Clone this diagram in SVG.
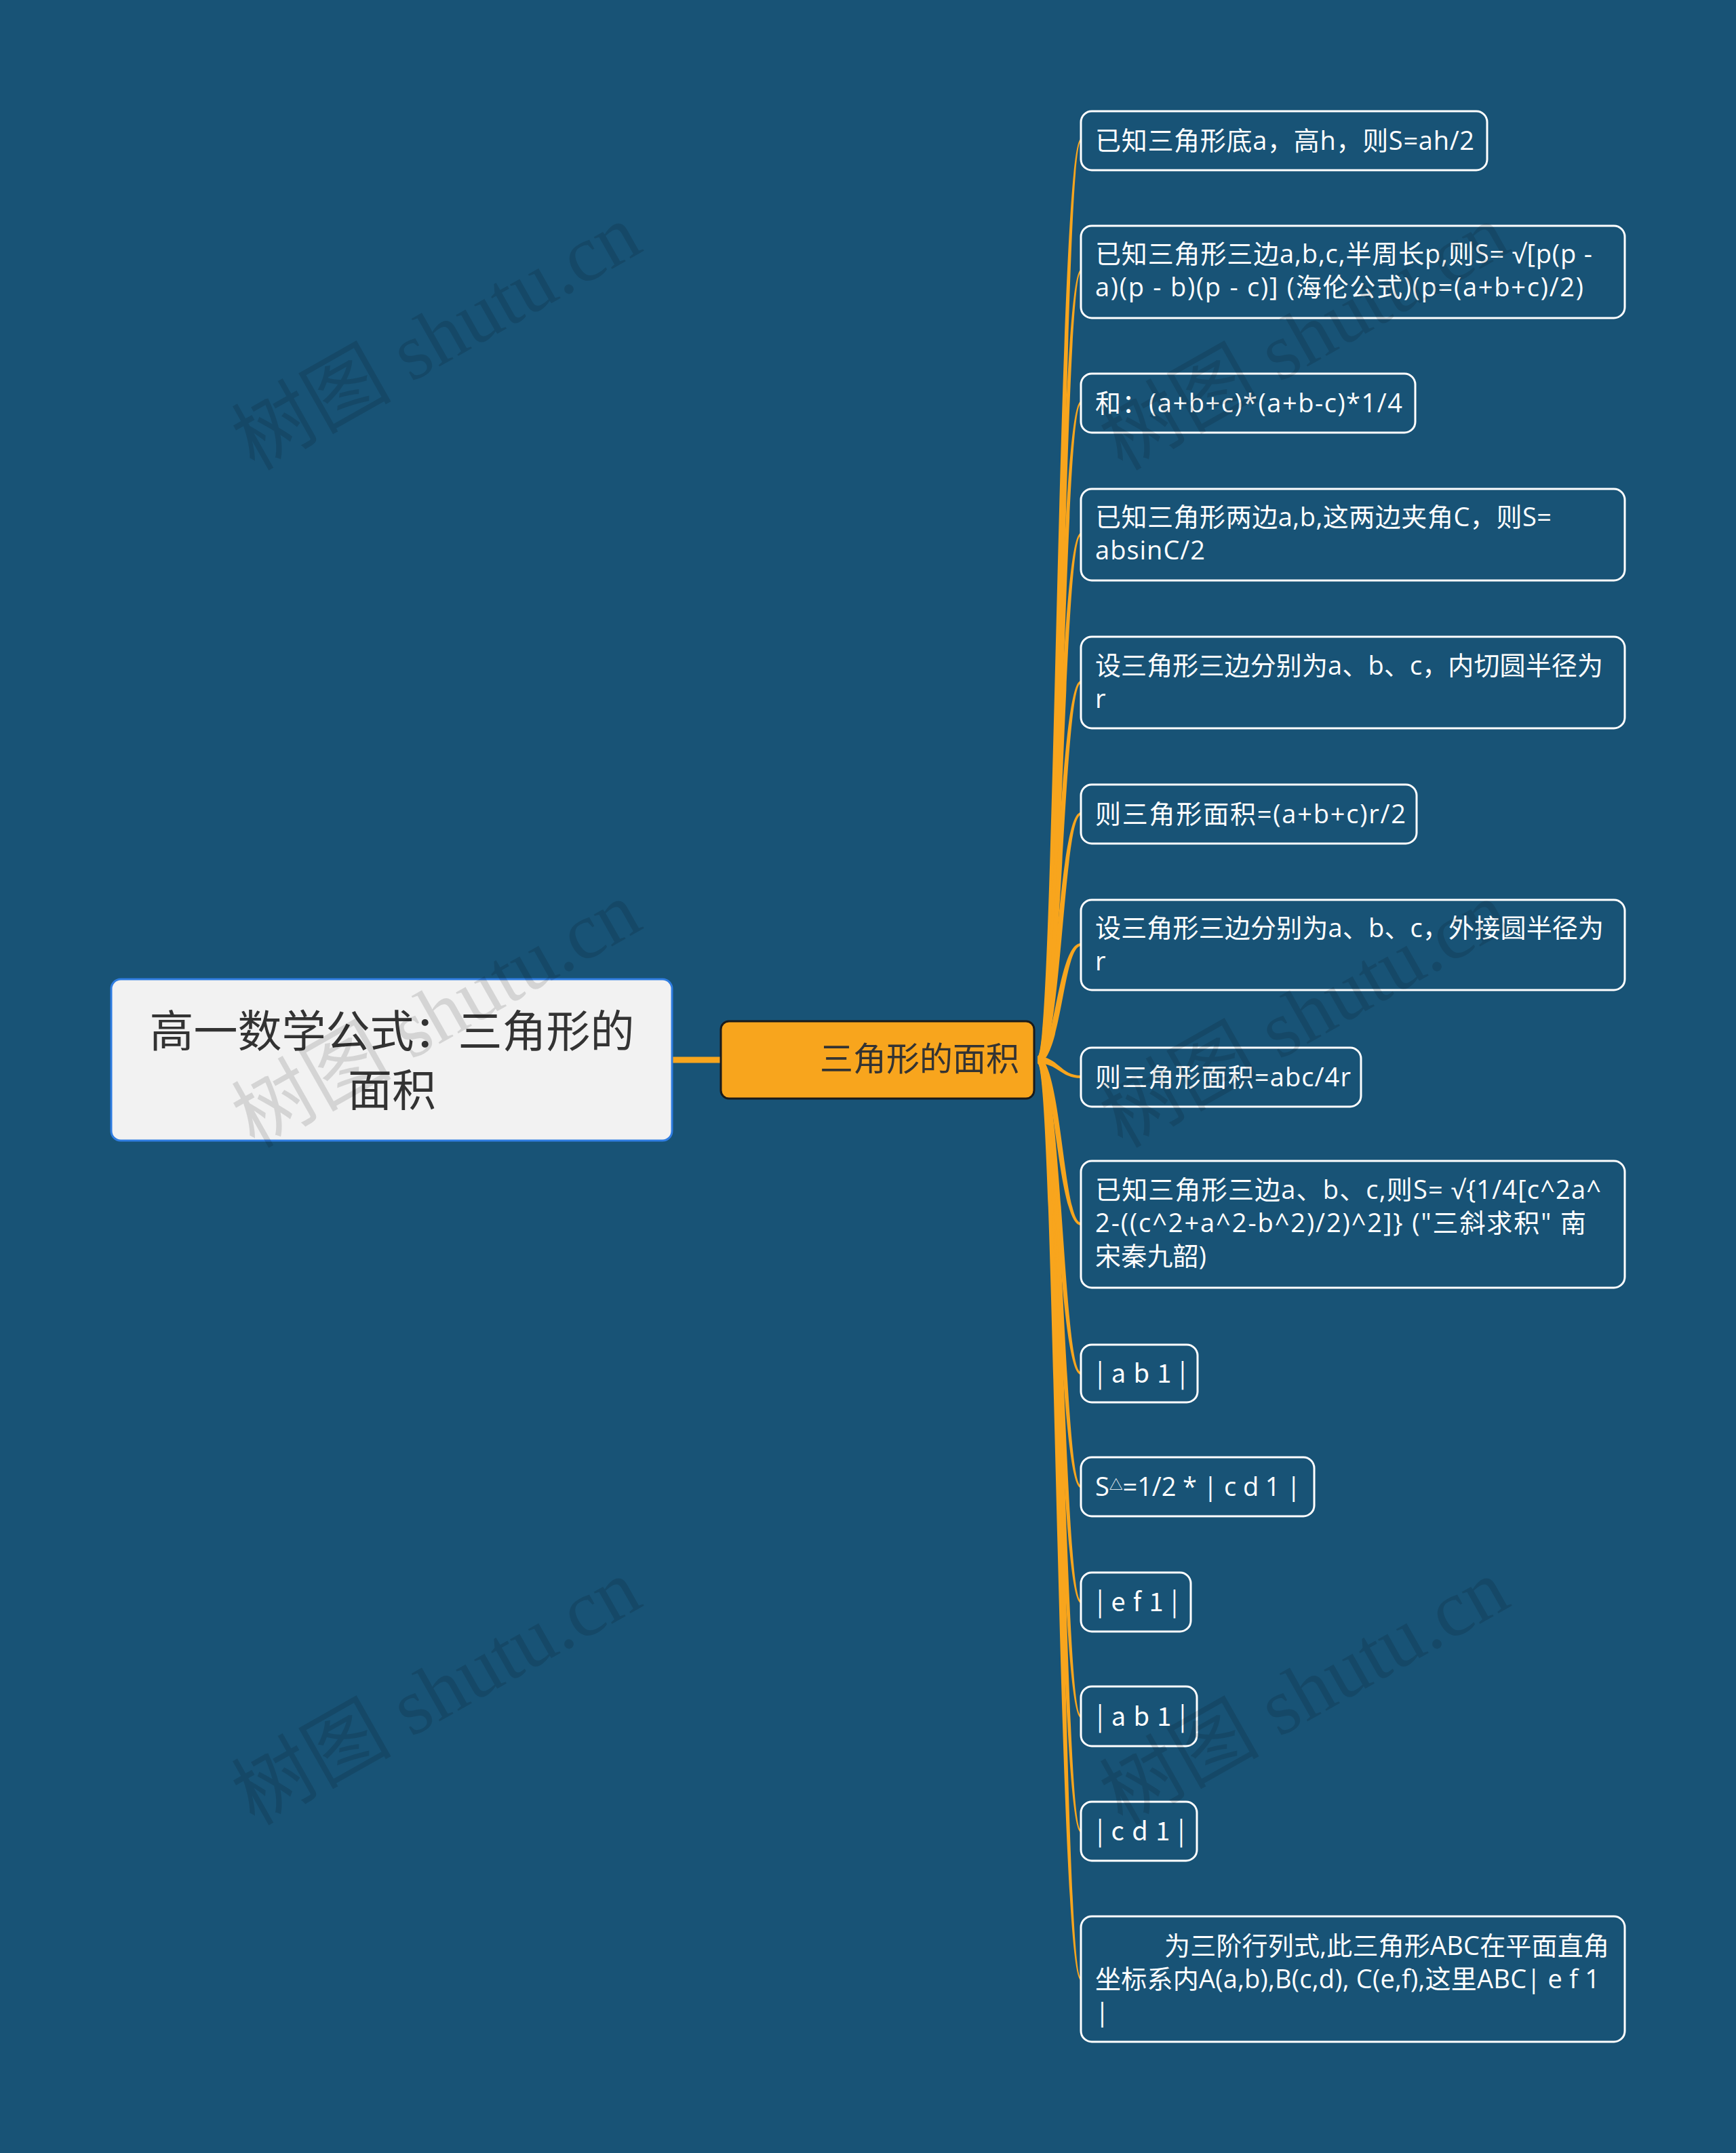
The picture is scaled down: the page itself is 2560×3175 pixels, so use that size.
<svg xmlns="http://www.w3.org/2000/svg" width="2560" height="3175" viewBox="0 0 2560 3175">
<style>
.t{font-family:"Open Sans","Noto Sans CJK SC",sans-serif;font-size:38px;fill:#ffffff}
.p{font-family:"Noto Sans CJK SC","Open Sans",sans-serif}
.box{fill:#185376;stroke:#ffffff;stroke-width:3}
.lk{fill:#f8a51d;stroke:none}
.wm{font-family:"Liberation Serif","Noto Sans CJK SC",serif;font-size:118px;fill:#000000;fill-opacity:0.12}
</style>
<rect x="0" y="0" width="2560" height="3175" fill="#185376"/>
<g id="connectors">
<line x1="991" y1="1563" x2="1064" y2="1563" stroke="#f8a51d" stroke-width="9"/>
<path class="lk" d="M1530,1558 C1555,1558 1560,205 1594,205 L1594,209 C1568,209 1565,1568 1530,1568 Z"/>
<path class="lk" d="M1530,1558 C1555,1558 1560,398 1594,398 L1594,402 C1568,402 1565,1568 1530,1568 Z"/>
<path class="lk" d="M1530,1558 C1555,1558 1560,592 1594,592 L1594,596 C1568,596 1565,1568 1530,1568 Z"/>
<path class="lk" d="M1530,1558 C1555,1558 1560,786 1594,786 L1594,790 C1568,790 1565,1568 1530,1568 Z"/>
<path class="lk" d="M1530,1558 C1555,1558 1560,1004 1594,1004 L1594,1008 C1568,1008 1565,1568 1530,1568 Z"/>
<path class="lk" d="M1530,1558 C1555,1558 1560,1198 1594,1198 L1594,1202 C1568,1202 1565,1568 1530,1568 Z"/>
<path class="lk" d="M1530,1558 C1555,1558 1560,1391 1594,1391 L1594,1395 C1568,1395 1565,1568 1530,1568 Z"/>
<path class="lk" d="M1530,1558 C1560,1558 1564,1586 1594,1586 L1594,1590 C1564,1590 1560,1568 1530,1568 Z"/>
<path class="lk" d="M1530,1558 C1565,1558 1568,1803 1594,1803 L1594,1807 C1560,1807 1555,1568 1530,1568 Z"/>
<path class="lk" d="M1530,1558 C1565,1558 1568,2023 1594,2023 L1594,2027 C1560,2027 1555,1568 1530,1568 Z"/>
<path class="lk" d="M1530,1558 C1565,1558 1568,2190 1594,2190 L1594,2194 C1560,2194 1555,1568 1530,1568 Z"/>
<path class="lk" d="M1530,1558 C1565,1558 1568,2360 1594,2360 L1594,2364 C1560,2364 1555,1568 1530,1568 Z"/>
<path class="lk" d="M1530,1558 C1565,1558 1568,2529 1594,2529 L1594,2533 C1560,2533 1555,1568 1530,1568 Z"/>
<path class="lk" d="M1530,1558 C1565,1558 1568,2698 1594,2698 L1594,2702 C1560,2702 1555,1568 1530,1568 Z"/>
<path class="lk" d="M1530,1558 C1565,1558 1568,2916 1594,2916 L1594,2920 C1560,2920 1555,1568 1530,1568 Z"/>
</g>
<g id="root">
<rect x="164" y="1444" width="827" height="238" rx="14" fill="#f2f2f2" stroke="#2f7de1" stroke-width="3"/>
<text x="578" y="1544" text-anchor="middle" style="font-family:'Open Sans','Noto Sans CJK SC',sans-serif;font-size:65px;fill:#333333">高一数学公式：三角形的</text>
<text x="578" y="1631" text-anchor="middle" style="font-family:'Open Sans','Noto Sans CJK SC',sans-serif;font-size:65px;fill:#333333">面积</text>
</g>
<g id="central">
<rect x="1063" y="1506" width="462" height="114" rx="12" fill="#f8a51d" stroke="#1a1a1a" stroke-width="3"/>
<text x="1503" y="1579" text-anchor="end" style="font-family:'Open Sans','Noto Sans CJK SC',sans-serif;font-size:49px;fill:#333333">三角形的面积</text>
</g>
<g id="n1"><rect class="box" x="1594" y="164" width="599" height="87" rx="16"/><text class="t" x="1615" y="221" textLength="559" lengthAdjust="spacing">已知三角形底a，高h，则S=ah/2</text></g>
<g id="n2"><rect class="box" x="1594" y="333" width="802" height="136" rx="16"/><text class="t" x="1615" y="388" textLength="733" lengthAdjust="spacing">已知三角形三边a,b,c,半周长p,则S= √[p(p -</text><text class="t" x="1615" y="437" textLength="720" lengthAdjust="spacing">a)(p - b)(p - c)] (海伦公式)(p=(a+b+c)/2)</text></g>
<g id="n3"><rect class="box" x="1594" y="551" width="493" height="87" rx="16"/><text class="t" x="1615" y="608" textLength="453" lengthAdjust="spacing">和：(a+b+c)*(a+b-c)*1/4</text></g>
<g id="n4"><rect class="box" x="1594" y="721" width="802" height="135" rx="16"/><text class="t" x="1615" y="776" textLength="673" lengthAdjust="spacing">已知三角形两边a,b,这两边夹角C，则S=</text><text class="t" x="1615" y="825" textLength="162" lengthAdjust="spacing">absinC/2</text></g>
<g id="n5"><rect class="box" x="1594" y="939" width="802" height="135" rx="16"/><text class="t" x="1615" y="995" textLength="749" lengthAdjust="spacing">设三角形三边分别为a、b、c，内切圆半径为</text><text class="t" x="1615" y="1044">r</text></g>
<g id="n6"><rect class="box" x="1594" y="1157" width="495" height="87" rx="16"/><text class="t" x="1615" y="1214" textLength="458" lengthAdjust="spacing">则三角形面积=(a+b+c)r/2</text></g>
<g id="n7"><rect class="box" x="1594" y="1327" width="802" height="133" rx="16"/><text class="t" x="1615" y="1382" textLength="750" lengthAdjust="spacing">设三角形三边分别为a、b、c，外接圆半径为</text><text class="t" x="1615" y="1431">r</text></g>
<g id="n8"><rect class="box" x="1594" y="1545" width="413" height="87" rx="16"/><text class="t" x="1615" y="1602" textLength="377" lengthAdjust="spacing">则三角形面积=abc/4r</text></g>
<g id="n9"><rect class="box" x="1594" y="1712" width="802" height="187" rx="16"/><text class="t" x="1615" y="1768" textLength="746" lengthAdjust="spacing">已知三角形三边a、b、c,则S= √{1/4[c^2a^</text><text class="t" x="1615" y="1817" textLength="724" lengthAdjust="spacing">2-((c^2+a^2-b^2)/2)^2]} ("三斜求积" 南</text><text class="t" x="1615" y="1866" textLength="164" lengthAdjust="spacing">宋秦九韶)</text></g>
<g id="n10"><rect class="box" x="1594" y="1983" width="172" height="85" rx="16"/><text class="t p" x="1617" y="2039" textLength="132" lengthAdjust="spacing">| a b 1 |</text></g>
<g id="n11"><rect class="box" x="1594" y="2149" width="344" height="87" rx="16"/><text class="t" x="1615" y="2206" textLength="303" lengthAdjust="spacing">S<tspan font-size="20" dy="-9">△</tspan><tspan dy="9">=1/2 * | c d 1 |</tspan></text></g>
<g id="n12"><rect class="box" x="1594" y="2319" width="162" height="87" rx="16"/><text class="t p" x="1617" y="2376" textLength="120" lengthAdjust="spacing">| e f 1 |</text></g>
<g id="n13"><rect class="box" x="1594" y="2487" width="171" height="88" rx="16"/><text class="t p" x="1617" y="2545" textLength="132" lengthAdjust="spacing">| a b 1 |</text></g>
<g id="n14"><rect class="box" x="1594" y="2657" width="171" height="87" rx="16"/><text class="t p" x="1617" y="2714" textLength="130" lengthAdjust="spacing">| c d 1 |</text></g>
<g id="n15"><rect class="box" x="1594" y="2826" width="802" height="185" rx="16"/><text class="t" x="1717" y="2883" textLength="656" lengthAdjust="spacing">为三阶行列式,此三角形ABC在平面直角</text><text class="t" x="1615" y="2932" textLength="744" lengthAdjust="spacing">坐标系内A(a,b),B(c,d), C(e,f),这里ABC| e f 1</text><text class="t" x="1615" y="2981">|</text></g>
<g id="watermarks">
<text class="wm" transform="translate(375,695) rotate(-29.5)">树图 shutu.cn</text>
<text class="wm" transform="translate(375,1694) rotate(-29.5)">树图 shutu.cn</text>
<text class="wm" transform="translate(375,2693) rotate(-29.5)">树图 shutu.cn</text>
<text class="wm" transform="translate(1655,695) rotate(-29.5)">树图 shutu.cn</text>
<text class="wm" transform="translate(1655,1694) rotate(-29.5)">树图 shutu.cn</text>
<text class="wm" transform="translate(1655,2693) rotate(-29.5)">树图 shutu.cn</text>
</g>
</svg>
